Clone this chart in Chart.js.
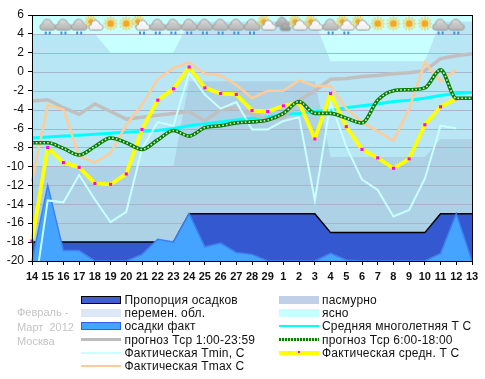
<!DOCTYPE html>
<html>
<head>
<meta charset="utf-8">
<script src="https://cdn.jsdelivr.net/npm/chart.js@4/dist/chart.umd.min.js"></script>
<style>
  html, body { margin: 0; padding: 0; background: #fff; }
  #wrap { position: relative; width: 485px; height: 379px; overflow: hidden; font: 12px "Liberation Sans", Arial, sans-serif; }
  canvas { display: block; }
  .txt { position: absolute; white-space: nowrap; color: #111; line-height: 14px; letter-spacing: 0.2px; }
  .side { position: absolute; left: 17px; white-space: pre; color: #c4c4c4; line-height: 14px; font-size: 11px; }
  .sw { position: absolute; box-sizing: border-box; width: 40px; }
</style>
</head>
<body>
<div id="wrap"><canvas id="myChart" width="485" height="379"></canvas></div>
<script>
const days = ['14','15','16','17','18','19','20','21','22','23','24','25','26','27','28','29',
  '1','2','3','4','5','6','7','8','9','10','11','12','13'];

const clearSky = [6,6,6,6,6,6,6,6,6,6,6,6,6,6,6,6,6,6,6,6,6,6,6,6,6,6,6,6,6];
const partlyCloudy = [4,4,4,4,4,2,2,2,2,2,5.3,5.3,5.3,5.3,5.3,5.3,5.3,5.3,5.3,1.1,1.1,1.1,1.1,1.1,1.1,1.1,5.3,5.3,5.3];
const overcast = [-10,-10,-10,-10,-10,-10,-10,-10,-10,-10,-1,-1,-1,-1,-1,-1,-1,-1,-1,-9,-9,-9,-9,-9,-9,-9,-7.1,-7.1,-7.1];
const precipShare = [-18,-18,-18,-18,-18,-18,-18,-18,-18,-18,-15,-15,-15,-15,-15,-15,-15,-15,-15,-17,-17,-17,-17,-17,-17,-17,-15,-15,-15];
const precipFact = [-20,-12,-18.9,-18.9,-20,-20,-20,-19.3,-17.7,-18,-15,-18.5,-18.1,-19.1,-19.3,-20,-20,-20,-20,-19.2,-19.9,-20,-20,-20,-20,-20,-19.2,-15,-20];
const forecastAll = [-3.1,-2.95,-3.8,-4.5,-3.4,-4.2,-5,-4.8,-4.6,-4.4,-4.2,-5.2,-4,-3.8,-4.5,-5,-4.9,-3,-2,-0.8,-0.7,-0.5,-0.4,-0.2,-0.1,0.1,1.4,1.7,1.9];
const normalT = [-7,-6.9,-6.8,-6.7,-6.6,-6.5,-6.4,-6.3,-6.2,-6,-5.7,-5.5,-5.3,-5.1,-4.9,-4.8,-4.5,-4.4,-4.2,-4.1,-3.8,-3.6,-3.4,-3.15,-3,-2.8,-2.5,-2.3,-2.2];
const forecastDay = [-7.5,-7.5,-8.1,-8.8,-7.9,-7,-7.5,-8.2,-7.2,-6.2,-6.8,-5.9,-5.7,-5.4,-5.3,-5.1,-4.4,-3.15,-4.4,-4.4,-4.9,-5.4,-3,-2,-1.9,-1.7,0.2,-2.8,-2.8];
const actualMin = [-25,-13.6,-13.8,-10.9,-13.5,-15.9,-14.8,-8.1,-5.3,-5.7,-0.1,-2.4,-3.9,-3.2,-6.1,-6.1,-5.2,-4.8,-13.6,-3.2,-7.9,-11.4,-12.5,-15.3,-14.6,-11.3,-5.7,-6,null];
const actualMax = [-11.6,-3.5,-4,-8.9,-9.6,-8.6,-5.6,-3.5,-0.8,0.4,1,-0.2,-0.4,-1.4,-2.8,-2,-2,-0.9,-1.5,-1.5,-3.9,-5.3,-6.3,-7.3,-3.9,1,-1,0.2,null];
const actualAvg = [-17.9,-8,-9.6,-10.1,-11.8,-11.9,-10.8,-6.1,-3,-1.8,0.5,-1.7,-2.3,-2.4,-4.1,-4.2,-3.6,-3.25,-7.1,-2.3,-5.8,-8.2,-9.1,-10.2,-9.2,-5.6,-3.7,-2.85,null];

const iconTypes = [null,'rain','rain','rain','suncloud','sun','sun','suncloudrain','rain','rain','rain','rain','rain','rain','rain',
  'suncloud','clouds','suncloud','suncloud','rain','suncloudrain','suncloud','sun','sun','sun','sun','rain','rain',null];
const iconLevel = 5.1;

const legendLeft = ['Пропорция осадков','перемен. обл.','осадки факт','прогноз Тср 1:00-23:59','Фактическая Tmin, С','Фактическая Tmax С'];
const legendRight = ['пасмурно','ясно','Средняя многолетняя Т С','прогноз Тср 6:00-18:00','Фактическая средн. Т С'];
const sideText = ['Февраль -','Март  2012','Москва'];

// cloud about 16 wide, x is its middle, y its flat bottom
function cloud(c, x, y, s, top, low) {
  var g = c.createLinearGradient(0, y - 11 * s, 0, y);
  g.addColorStop(0, top);
  g.addColorStop(1, low);
  c.fillStyle = g;
  c.strokeStyle = '#9c9c9c';
  c.lineWidth = 1;
  c.beginPath();
  c.moveTo(x - 5 * s, y);
  c.arc(x - 5 * s, y - 3 * s, 3 * s, Math.PI / 2, Math.PI * 1.5);
  c.arc(x - 0.5 * s, y - 6 * s, 4.8 * s, Math.PI * 1.1, Math.PI * 1.95);
  c.arc(x + 5 * s, y - 3 * s, 3 * s, Math.PI * 1.6, Math.PI / 2);
  c.closePath();
  c.fill();
  c.stroke();
}

function sun(c, x, y, r, rays) {
  c.strokeStyle = '#ffc42c';
  c.lineWidth = 1.2;
  for (var i = 0; i < 12; i++) {
    var a = i * Math.PI / 6;
    c.beginPath();
    c.moveTo(x + Math.cos(a) * (r + 0.5), y + Math.sin(a) * (r + 0.5));
    c.lineTo(x + Math.cos(a) * (r + rays), y + Math.sin(a) * (r + rays));
    c.stroke();
  }
  c.fillStyle = '#f4a81c';
  c.beginPath();
  c.arc(x, y, r, 0, Math.PI * 2);
  c.fill();
}

function rainDrops(c, x, y) {
  c.fillStyle = '#3c96dc';
  c.fillRect(x - 3, y, 2, 3);
  c.fillRect(x + 1, y, 2, 3);
}

function makeIcon(type) {
  var cv = document.createElement('canvas');
  cv.width = 24;
  cv.height = 24;
  var c = cv.getContext('2d');
  if (type == 'sun') {
    sun(c, 12, 12, 3.5, 3.5);
  } else if (type == 'rain') {
    cloud(c, 12, 18.5, 1, '#dcdcdc', '#b4b4b4');
    rainDrops(c, 12, 20);
  } else if (type == 'suncloud' || type == 'suncloudrain') {
    sun(c, 8, 10, 2.8, 3.5);
    cloud(c, 13, 18.5, 0.9, '#ffffff', '#ececec');
    if (type == 'suncloudrain') rainDrops(c, 12, 20);
  } else if (type == 'clouds') {
    cloud(c, 11, 15, 0.85, '#c8c8c8', '#a4a4a4');
    cloud(c, 14, 19, 0.65, '#c0c0c0', '#8c8c8c');
  }
  return cv;
}

// grid sits between the sky bands and the precipitation areas
const gridAfterBands = {
  id: 'gridAfterBands',
  afterDatasetDraw(chart, args) {
    if (chart.data.datasets[args.index].label != 'пасмурно') return;
    var y = chart.scales.y, area = chart.chartArea, c = chart.ctx;
    c.save();
    c.strokeStyle = '#a9b3c9';
    c.lineWidth = 1;
    y.ticks.forEach(function (t) {
      var py = Math.round(y.getPixelForValue(t.value)) + 0.5;
      c.beginPath();
      c.moveTo(area.left, py);
      c.lineTo(area.right, py);
      c.stroke();
    });
    c.restore();
  }
};

const frame = {
  id: 'frame',
  afterDraw(chart) {
    var a = chart.chartArea, c = chart.ctx;
    c.save();
    c.strokeStyle = '#000';
    c.lineWidth = 1;
    c.strokeRect(Math.round(a.left) + 0.5, Math.round(a.top) + 0.5, Math.round(a.right - a.left), Math.round(a.bottom - a.top));
    c.restore();
  }
};

function lineSet(label, data, color, width, order, extra) {
  return Object.assign({
    label: label, data: data, borderColor: color, borderWidth: width, order: order,
    pointRadius: 0, tension: 0, fill: false, spanGaps: false
  }, extra || {});
}

function areaSet(label, data, color, order, line) {
  return lineSet(label, data, line || color, line ? 1.5 : 0, order, { fill: 'start', backgroundColor: color });
}

const config = {
  type: 'line',
  data: {
    labels: days,
    datasets: [
      areaSet('ясно', clearSky, '#c8ffff', 20),
      areaSet('перемен. обл.', partlyCloudy, '#b8e6f5', 19),
      areaSet('пасмурно', overcast, '#add2e6', 18),
      areaSet('Пропорция осадков', precipShare, '#3458d0', 17, '#000'),
      areaSet('осадки факт', precipFact, '#44a4ff', 16, '#3f80f0'),
      lineSet('Средняя многолетняя Т С', normalT, '#00ffff', 3, 10),
      lineSet('прогноз Тср 1:00-23:59', forecastAll, '#c0c0c0', 3.5, 9, { clip: false }),
      lineSet('Фактическая Tmin, С', actualMin, '#c8ffff', 2, 8),
      lineSet('Фактическая Tmax С', actualMax, '#ffcc99', 2.5, 7),
      lineSet('Фактическая средн. Т С', actualAvg, '#ffff00', 3.8, 6, {
        clip: false, borderJoinStyle: 'round', pointRadius: 2.2, pointStyle: 'rect', pointBackgroundColor: '#ff00ff', pointBorderWidth: 0
      }),
      lineSet('прогноз Тср 6:00-18:00', forecastDay, '#087c08', 3.6, 5, { cubicInterpolationMode: 'monotone' }),
      lineSet('прогноз Тср 6:00-18:00 (кольца)', forecastDay, '#d8f0c0', 1.6, 4, { cubicInterpolationMode: 'monotone', borderDash: [1.6, 2.2] }),
      {
        label: 'значки', data: iconTypes.map(function (t) { return t ? iconLevel : null; }),
        showLine: false, order: 1, pointRadius: 3,
        pointStyle: iconTypes.map(function (t) { return t ? makeIcon(t) : 'circle'; })
      }
    ]
  },
  plugins: [gridAfterBands, frame],
  options: {
    responsive: false,
    animation: false,
    layout: { padding: { left: 0, top: 15, right: 13, bottom: 88 } },
    plugins: { legend: { display: false }, tooltip: { enabled: false } },
    scales: {
      x: {
        afterFit(axis) { axis.height = 30; },
        border: { display: false },
        grid: { drawOnChartArea: false, tickColor: '#000', tickLength: 4 },
        ticks: {
          autoSkip: false, maxRotation: 0, color: '#111', padding: 5,
          font: { family: '"Liberation Sans", Arial', size: 11, weight: 'bold' }
        }
      },
      y: {
        min: -20, max: 6,
        afterFit(axis) { axis.width = 32; },
        border: { display: false },
        grid: { drawOnChartArea: false, tickColor: '#000', tickLength: 4 },
        ticks: {
          stepSize: 2, color: '#111', padding: 4,
          font: { family: '"Liberation Sans", Arial', size: 12 }
        }
      }
    }
  }
};

const myChart = new Chart(document.getElementById('myChart'), config);

// legend under the chart
const wrap = document.getElementById('wrap');
const rowY = [300, 313, 326, 339.5, 352.5, 365.5];

function addText(cls, text, x, y) {
  var d = document.createElement('div');
  d.className = cls;
  d.textContent = text;
  if (x != null) d.style.left = x + 'px';
  d.style.top = (y - 7) + 'px';
  wrap.appendChild(d);
}

function addSwatch(x, y, h, css) {
  var d = document.createElement('div');
  d.className = 'sw';
  d.style.left = x + 'px';
  d.style.top = (y - h / 2) + 'px';
  d.style.height = h + 'px';
  d.style.cssText += css;
  wrap.appendChild(d);
  return d;
}

legendLeft.forEach(function (t, i) { addText('txt', t, 124.5, rowY[i]); });
legendRight.forEach(function (t, i) { addText('txt', t, 322, rowY[i]); });
addText('side', sideText[0], null, 311.5);
addText('side', sideText[1], null, 326.5);
addText('side', sideText[2], null, 341);

addSwatch(81, rowY[0], 8, 'background:#4060d0;border:1px solid #000;');
addSwatch(81, rowY[1], 8, 'background:#dde8f7;');
addSwatch(81, rowY[2], 8, 'background:#44a4ff;border:1px solid #3060f0;');
addSwatch(81, rowY[3], 3, 'background:#bdbdbd;');
addSwatch(81, rowY[4], 2, 'background:#c8ffff;');
addSwatch(81, rowY[5], 2, 'background:#ffcc99;');
addSwatch(279, rowY[0], 8, 'background:#c0d0e8;');
addSwatch(279, rowY[1], 8, 'background:#c8ffff;');
addSwatch(279, rowY[2], 2, 'background:#00ffff;');
addSwatch(279, rowY[3], 3, 'background:repeating-linear-gradient(90deg,#087c08 0,#087c08 2px,#d8f0c0 2px,#d8f0c0 3px);');
var ys = addSwatch(279, rowY[4], 4, 'background:#ffff00;');
ys.innerHTML = '<div style="position:absolute;left:19px;top:0.5px;width:2px;height:2px;background:#ff00ff"></div>';
</script>
</body>
</html>
